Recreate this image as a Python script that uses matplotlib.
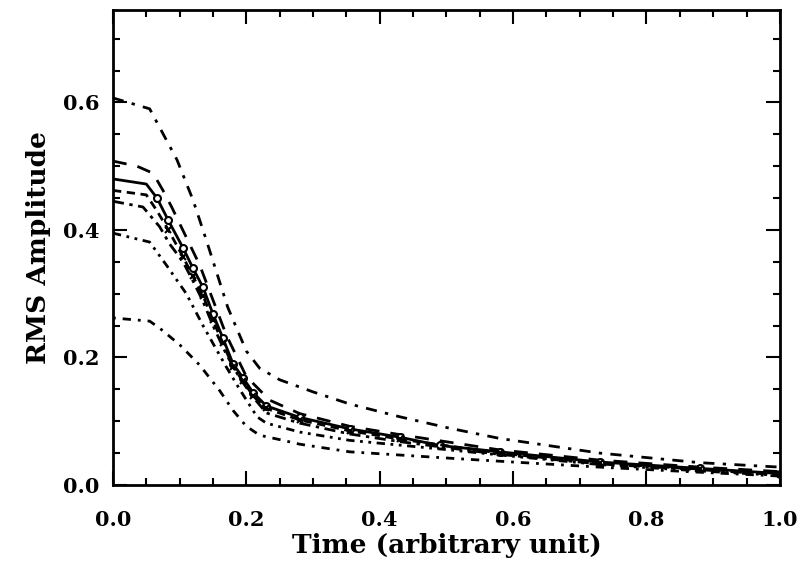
import numpy as np
import matplotlib
matplotlib.use('Agg')
import matplotlib.pyplot as plt
from matplotlib.ticker import MultipleLocator

# curve data
xa = [0, 0.055, 0.096, 0.12, 0.14, 0.172, 0.2, 0.22, 0.25, 0.3, 0.355, 0.43, 0.505, 0.58, 0.73, 0.88, 1.0]
ya = [0.607, 0.59, 0.51, 0.447, 0.384, 0.279, 0.21, 0.183, 0.165, 0.146, 0.127, 0.107, 0.089, 0.073, 0.05, 0.035, 0.028]

xb = [0, 0.036, 0.06, 0.075, 0.088, 0.1, 0.112, 0.13, 0.15, 0.17, 0.2, 0.235, 0.28, 0.355, 0.43, 0.58, 0.73, 0.88, 1.0]
yb = [0.508, 0.5, 0.489, 0.462, 0.436, 0.41, 0.384, 0.345, 0.29, 0.235, 0.17, 0.133, 0.112, 0.092, 0.079, 0.055, 0.039, 0.028, 0.021]

xc = [0, 0.05, 0.066, 0.083, 0.105, 0.12, 0.135, 0.15, 0.165, 0.18, 0.195, 0.21, 0.23, 0.28, 0.355, 0.43, 0.49, 0.58, 0.73, 0.88, 1.0]
yc = [0.48, 0.472, 0.45, 0.415, 0.372, 0.34, 0.31, 0.268, 0.23, 0.19, 0.168, 0.145, 0.124, 0.106, 0.088, 0.075, 0.062, 0.052, 0.036, 0.026, 0.018]

xd = [0, 0.05, 0.066, 0.083, 0.105, 0.12, 0.135, 0.15, 0.165, 0.18, 0.195, 0.21, 0.23, 0.28, 0.355, 0.43, 0.58, 0.73, 0.88, 1.0]
yd = [0.462, 0.455, 0.43, 0.4, 0.358, 0.327, 0.297, 0.258, 0.222, 0.185, 0.163, 0.14, 0.12, 0.102, 0.085, 0.072, 0.05, 0.034, 0.025, 0.017]

xe = [0, 0.045, 0.07, 0.085, 0.105, 0.12, 0.135, 0.15, 0.17, 0.19, 0.21, 0.23, 0.28, 0.355, 0.43, 0.58, 0.73, 0.88, 1.0]
ye = [0.445, 0.436, 0.405, 0.378, 0.35, 0.32, 0.288, 0.25, 0.205, 0.168, 0.138, 0.113, 0.097, 0.08, 0.068, 0.048, 0.033, 0.024, 0.016]

xf = [0, 0.055, 0.08, 0.11, 0.135, 0.15, 0.17, 0.19, 0.216, 0.23, 0.28, 0.355, 0.505, 0.6, 0.73, 0.88, 1.0]
yf = [0.395, 0.381, 0.345, 0.3, 0.25, 0.222, 0.185, 0.15, 0.107, 0.097, 0.083, 0.07, 0.055, 0.045, 0.032, 0.022, 0.015]

xg = [0, 0.055, 0.07, 0.1, 0.13, 0.16, 0.18, 0.2, 0.22, 0.255, 0.28, 0.355, 0.505, 0.6, 0.73, 0.88, 1.0]
yg = [0.262, 0.257, 0.246, 0.22, 0.188, 0.148, 0.117, 0.092, 0.078, 0.07, 0.064, 0.052, 0.042, 0.036, 0.028, 0.02, 0.014]

plt.rcParams['font.family'] = ['DejaVu Serif']

fig = plt.figure(figsize=(8.04, 5.73), dpi=100)
ax = fig.add_axes([0.1405, 0.1536, 0.8295, 0.829])

lw = 2.0
ax.plot(xa, ya, color='black', lw=lw, linestyle=(0, (4, 3, 1.2, 3)))
ax.plot(xb, yb, color='black', lw=lw, linestyle=(0, (5, 4)))
ax.plot(xc, yc, color='black', lw=lw, linestyle='-', marker='o', markersize=5,
        markerfacecolor='white', markeredgewidth=1.5, markevery=slice(2, None))
ax.plot(xd, yd, color='black', lw=lw, linestyle=(0, (3, 2)), marker='x', markersize=5,
        markeredgewidth=1.5, markevery=slice(3, None))
ax.plot(xe, ye, color='black', lw=lw, linestyle=(0, (4, 2, 1.2, 2)))
ax.plot(xf, yf, color='black', lw=lw, linestyle=(0, (3, 2, 1, 2, 1, 2)))
ax.plot(xg, yg, color='black', lw=lw, linestyle=(0, (1, 2.5, 3, 2.5)))

ax.set_xlim(0, 1.0)
ax.set_ylim(0, 0.745)
ax.xaxis.set_major_locator(MultipleLocator(0.2))
ax.xaxis.set_minor_locator(MultipleLocator(0.05))
ax.yaxis.set_major_locator(MultipleLocator(0.2))
ax.yaxis.set_minor_locator(MultipleLocator(0.05))
ax.tick_params(which='both', direction='in', top=True, right=True, width=1.5, labelsize=15)
ax.tick_params(axis='x', pad=18)
ax.tick_params(axis='y', pad=10)
ax.tick_params(which='major', length=10)
ax.tick_params(which='minor', length=5)
ax.set_xticklabels(['%.1f' % v for v in ax.get_xticks()], fontweight='bold')
ax.set_yticklabels(['%.1f' % v for v in ax.get_yticks()], fontweight='bold')
for s in ax.spines.values():
    s.set_linewidth(2)

ax.set_xlabel('Time (arbitrary unit)', fontsize=19, fontweight='bold', labelpad=2)
ax.set_ylabel('RMS Amplitude', fontsize=19, fontweight='bold', labelpad=8)

fig.savefig('out.png', dpi=100)
